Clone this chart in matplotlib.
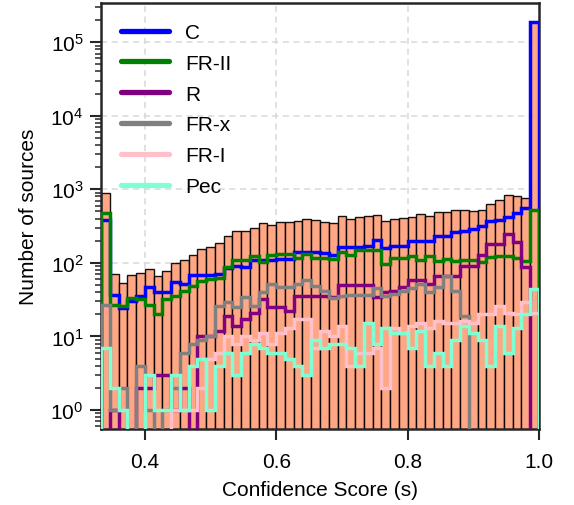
import numpy as np
import matplotlib
matplotlib.use('Agg')
import matplotlib.pyplot as plt
from matplotlib.lines import Line2D

plt.rcParams['font.family'] = ['Liberation Sans', 'DejaVu Sans']
plt.rcParams['mathtext.fontset'] = 'custom'
plt.rcParams['mathtext.rm'] = 'Liberation Sans'
plt.rcParams['mathtext.it'] = 'Liberation Sans:italic'
plt.rcParams['font.size'] = 15

# 50 bins of confidence score between 1/3 and 1
bins = np.linspace(1 / 3, 1, 51)
xticks = [0.4, 0.6, 0.8, 1.0]

# total number of sources per bin (bars)
total = [895, 71, 53, 69, 72, 83, 66, 77, 100, 110,
         127, 152, 163, 186, 230, 270, 270, 300, 343, 323,
         356, 356, 370, 400, 380, 356, 343, 432, 398, 423,
         436, 447, 370, 398, 410, 425, 455, 440, 490, 485,
         523, 530, 510, 530, 640, 720, 825, 810, 767, 190500]

# per class counts (step lines)
c_counts = [380, 37, 24, 30, 36, 47, 40, 40, 55, 52,
            69, 69, 69, 71, 85, 92, 87, 110, 110, 110,
            113, 113, 140, 142, 140, 137, 129, 163, 163, 163,
            172, 205, 160, 168, 172, 200, 200, 200, 230, 230,
            265, 275, 290, 320, 375, 380, 425, 470, 560, 189800]
fr2_counts = [470, 27, 26, 33, 32, 27, 20, 32, 36, 42,
              48, 57, 60, 63, 87, 110, 110, 123, 102, 129,
              133, 133, 117, 133, 117, 115, 113, 140, 126, 148,
              148, 148, 98, 117, 117, 123, 111, 123, 105, 113,
              105, 111, 111, 103, 119, 123, 123, 117, 107, 515]
r_counts = [0, 1, 0, 0, 2, 2, 3, 3, 1, 2,
            0, 10, 10, 12, 19, 14, 17, 21, 32, 25,
            25, 22, 36, 36, 36, 36, 34, 50, 50, 50,
            50, 34, 40, 42, 47, 58, 58, 52, 67, 67,
            67, 92, 92, 128, 182, 182, 250, 190, 89, 0]
frx_counts = [27, 1, 2, 0, 4, 1, 0, 1, 2, 6,
              8, 9, 10, 26, 29, 25, 34, 26, 40, 52,
              47, 47, 52, 58, 49, 42, 33, 36, 37, 37,
              37, 45, 36, 38, 41, 45, 52, 40, 47, 66,
              42, 19, 0, 0, 0, 0, 0, 0, 0, 0]
fr1_counts = [0, 0, 0, 0, 0, 0, 0, 0, 1, 1,
              1, 2, 5, 6, 10, 8, 10, 9, 11, 8,
              11, 13, 17, 17, 7, 12, 10, 14, 4, 6,
              6, 7, 2, 13, 11, 14, 15, 13, 16, 15,
              15, 16, 15, 20, 20, 26, 21, 20, 29, 21]
pec_counts = [7, 2, 1, 0, 0, 3, 1, 1, 3, 1,
              4, 5, 1, 4, 6, 3, 6, 8, 7, 6,
              6, 5, 4, 3, 9, 7, 8, 8, 7, 4,
              15, 8, 13, 11, 11, 7, 12, 4, 6, 4,
              9, 14, 11, 9, 4, 14, 6, 13, 20, 44]

classes = ['C', 'FR-II', 'R', 'FR-x', 'FR-I', 'Pec']
class_counts = [c_counts, fr2_counts, r_counts, frx_counts, fr1_counts, pec_counts]
colors = ['blue', 'green', 'purple', 'gray', 'pink', 'aquamarine']

centers = (bins[:-1] + bins[1:]) / 2

fig, ax = plt.subplots(figsize=(5.74, 5.06), dpi=100)
fig.subplots_adjust(left=0.176, right=0.939, bottom=0.150, top=0.992)

ax.hist(centers, bins=bins, weights=total, color='lightsalmon', alpha=0.92,
        edgecolor='black', linewidth=1.0, log=True, zorder=2)
for name, vals, col in zip(classes, class_counts, colors):
    ax.hist(centers, bins=bins, weights=vals, histtype='step', color=col,
            linewidth=2.5, zorder=3)

ax.set_yscale('log')
ax.set_xlim(bins[0], bins[-1])
ax.set_ylim(0.55, 3.4e5)
ax.set_xticks(xticks)
ax.set_xticklabels([f'{t:.1f}' for t in xticks])

ax.grid(True, which='major', ls=(0, (4, 3)), color='#d8d8d8', lw=1.1, zorder=0)
ax.set_axisbelow(True)

for sp in ax.spines.values():
    sp.set_linewidth(1.8)
    sp.set_color('#262626')
ax.tick_params(which='major', direction='out', length=7.7, width=1.5, color='#262626', labelsize=15, pad=5)
ax.tick_params(axis='x', which='major', pad=8.5)
ax.tick_params(which='minor', direction='out', length=4.5, width=1.1, color='#262626')
ax.tick_params(axis='x', which='minor', length=0)

ax.set_xlabel('Confidence Score (s)', fontsize=15, labelpad=7)
ax.set_ylabel('Number of sources', fontsize=15, labelpad=9)

# legend with plain line handles
handles = [Line2D([0], [0], color=col, lw=3.8, solid_capstyle='round') for col in colors]
ax.legend(handles, classes, loc='upper left', frameon=False, fontsize=15,
          handlelength=2.3, labelspacing=0.57, handletextpad=0.8,
          borderaxespad=0.55, borderpad=0.4)

plt.savefig('out.png', dpi=100)
